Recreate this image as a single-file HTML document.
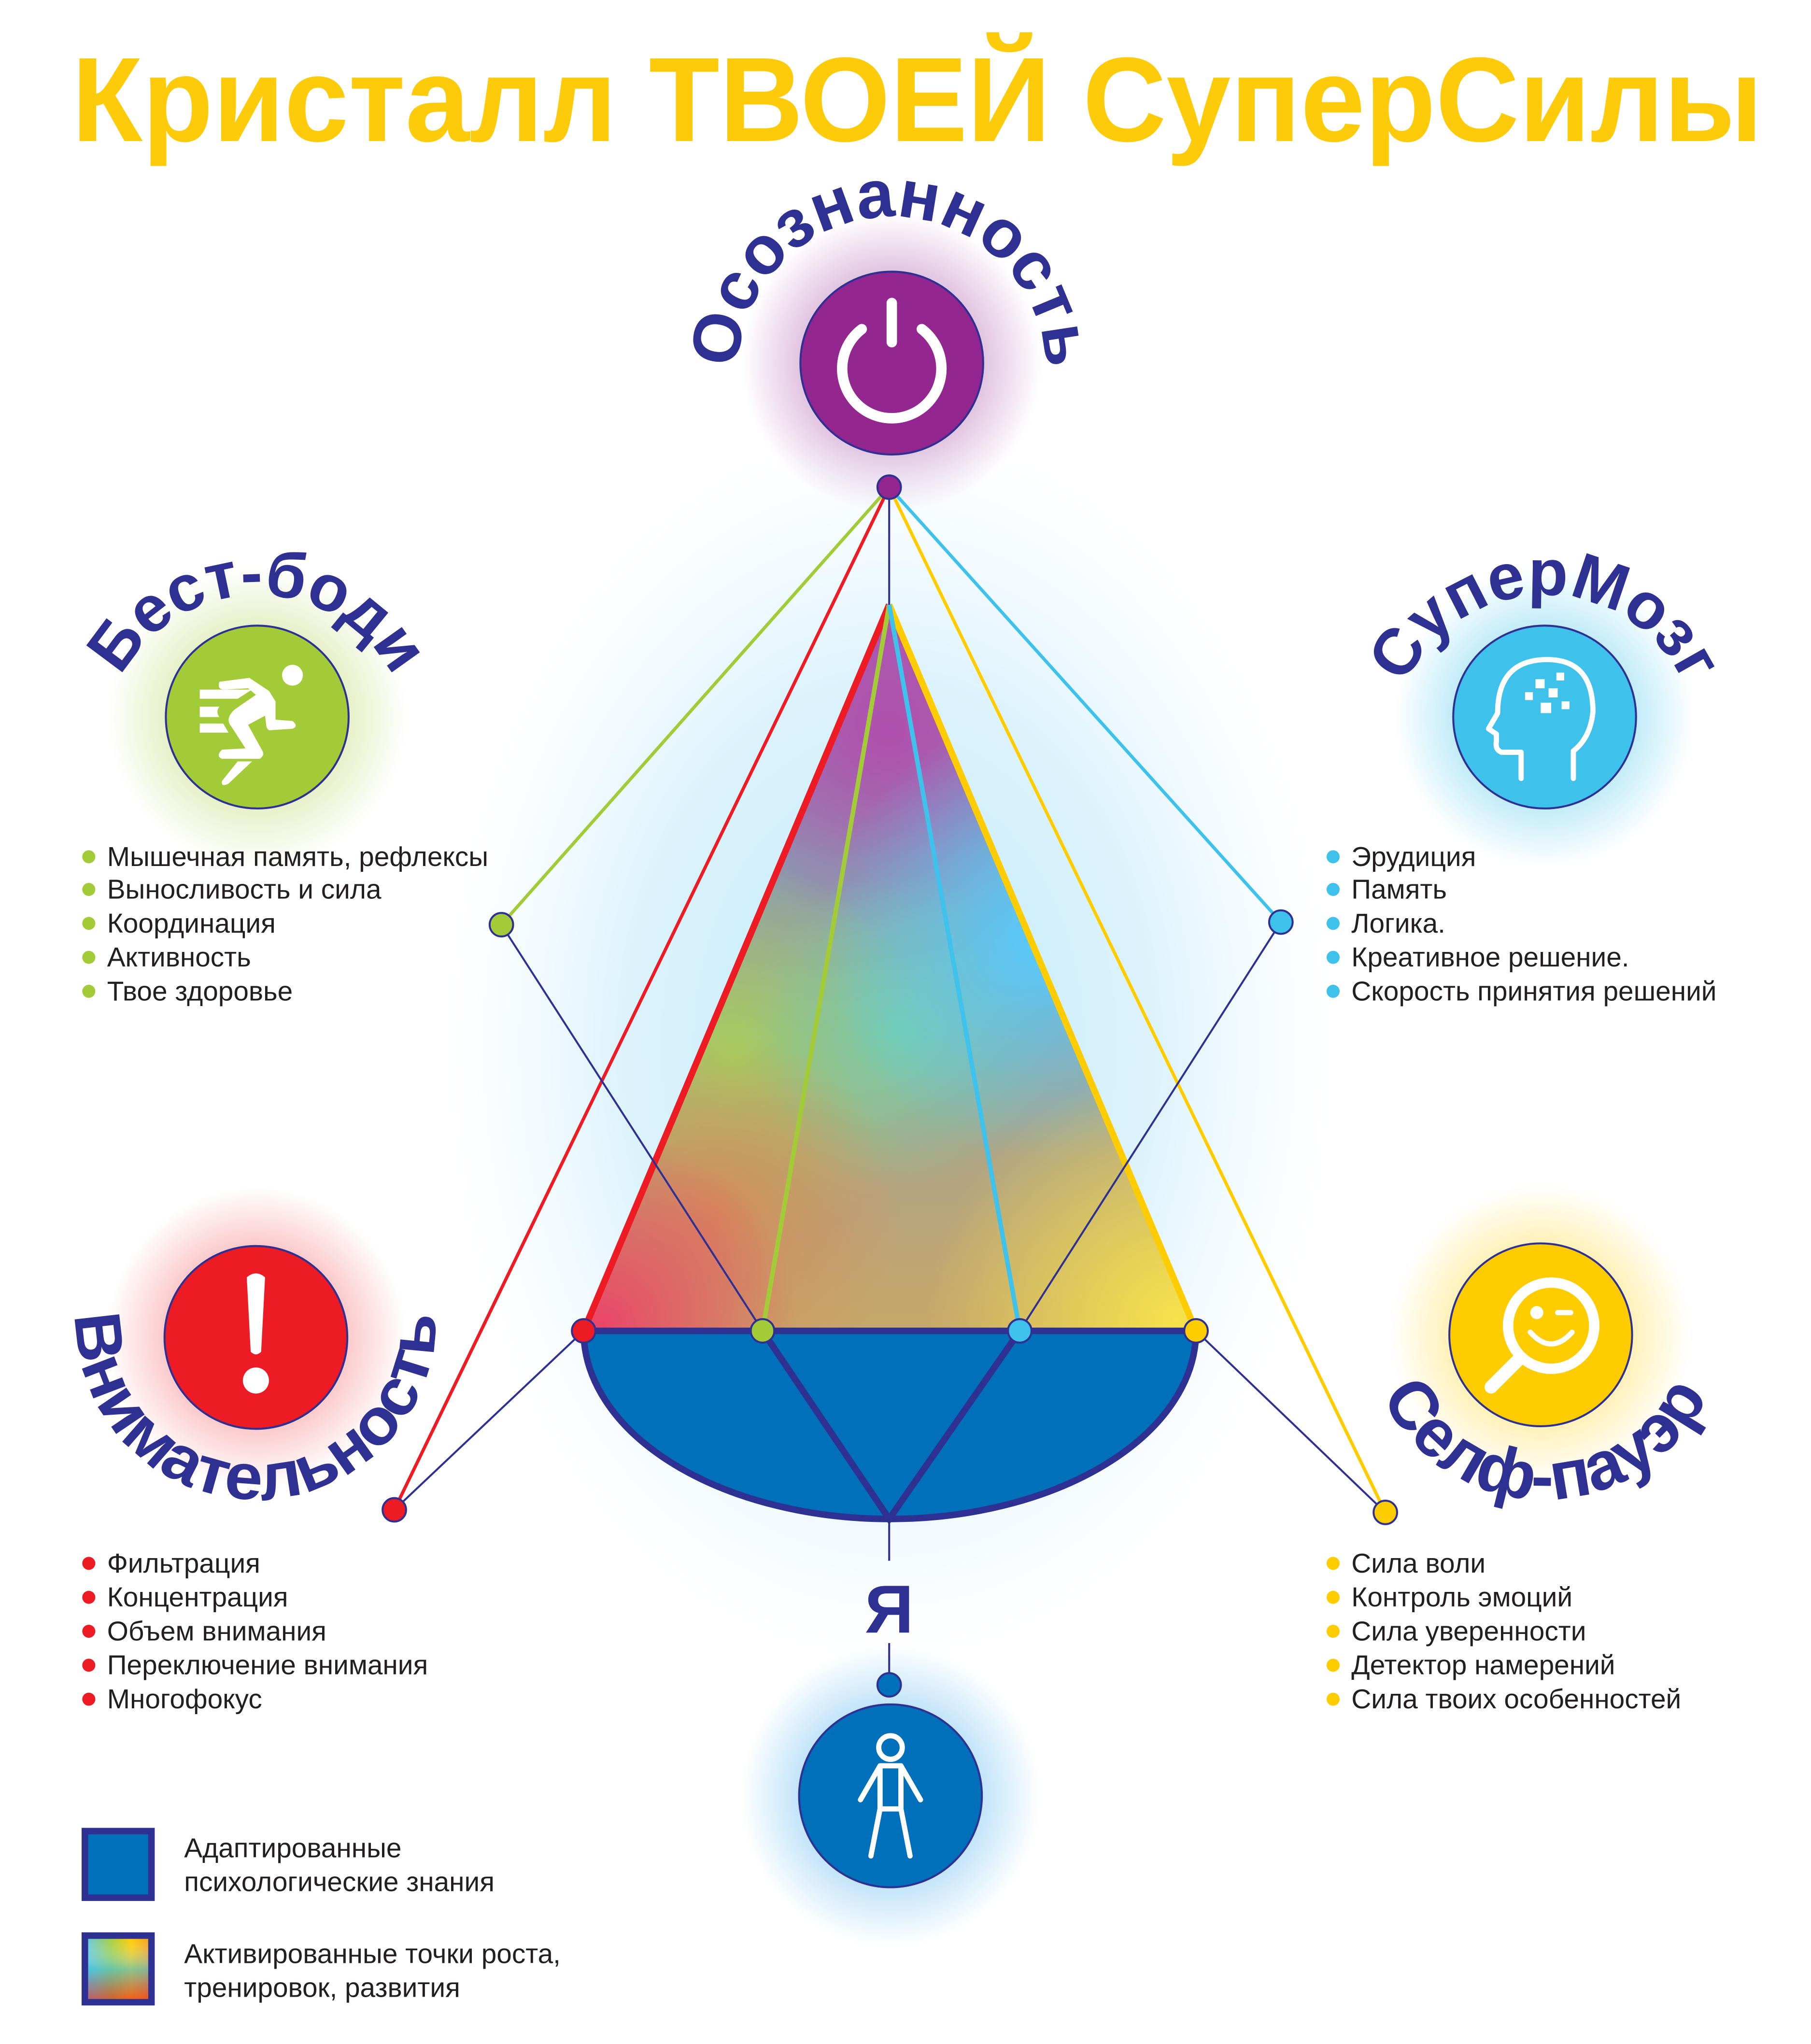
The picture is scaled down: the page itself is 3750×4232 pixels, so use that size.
<!DOCTYPE html>
<html><head><meta charset="utf-8"><style>html,body{margin:0;padding:0;background:#fff}svg{display:block}</style></head><body>
<svg width="3750" height="4232" viewBox="0 0 1387 1565" preserveAspectRatio="none" xmlns="http://www.w3.org/2000/svg">
<defs>
<radialGradient id="gP"><stop offset="0.5" stop-color="#93268F" stop-opacity="0.35"/><stop offset="1" stop-color="#93268F" stop-opacity="0"/></radialGradient>
<radialGradient id="gG"><stop offset="0.5" stop-color="#A3CB38" stop-opacity="0.35"/><stop offset="1" stop-color="#A3CB38" stop-opacity="0"/></radialGradient>
<radialGradient id="gC"><stop offset="0.5" stop-color="#3EC1EA" stop-opacity="0.4"/><stop offset="1" stop-color="#3EC1EA" stop-opacity="0"/></radialGradient>
<radialGradient id="gR"><stop offset="0.5" stop-color="#ED1C24" stop-opacity="0.3"/><stop offset="1" stop-color="#ED1C24" stop-opacity="0"/></radialGradient>
<radialGradient id="gY"><stop offset="0.5" stop-color="#FFCC00" stop-opacity="0.35"/><stop offset="1" stop-color="#FFCC00" stop-opacity="0"/></radialGradient>
<radialGradient id="gB"><stop offset="0.5" stop-color="#3EA8EA" stop-opacity="0.4"/><stop offset="1" stop-color="#3EA8EA" stop-opacity="0"/></radialGradient>
<radialGradient id="halo"><stop offset="0" stop-color="#BDE9FB" stop-opacity="1"/><stop offset="0.6" stop-color="#D4F0FC" stop-opacity="0.8"/><stop offset="1" stop-color="#E8F7FD" stop-opacity="0"/></radialGradient>
<linearGradient id="base" x1="0" y1="0" x2="0" y2="1"><stop offset="0" stop-color="#B050B0"/><stop offset="0.35" stop-color="#8A9CB0"/><stop offset="1" stop-color="#C8A868"/></linearGradient>
<radialGradient id="oRed"><stop offset="0" stop-color="#EA4568" stop-opacity="1"/><stop offset="1" stop-color="#EA4568" stop-opacity="0"/></radialGradient>
<radialGradient id="oYel"><stop offset="0" stop-color="#F6E24C" stop-opacity="1"/><stop offset="1" stop-color="#F6E24C" stop-opacity="0"/></radialGradient>
<radialGradient id="oBlu"><stop offset="0" stop-color="#55CBFF" stop-opacity="1"/><stop offset="1" stop-color="#55CBFF" stop-opacity="0"/></radialGradient>
<radialGradient id="oGrn"><stop offset="0" stop-color="#A6CF5E" stop-opacity="1"/><stop offset="1" stop-color="#A6CF5E" stop-opacity="0"/></radialGradient>
<radialGradient id="oTeal"><stop offset="0" stop-color="#78CFA8" stop-opacity="1"/><stop offset="1" stop-color="#78CFA8" stop-opacity="0"/></radialGradient>
<radialGradient id="oPur"><stop offset="0" stop-color="#B04FAE" stop-opacity="1"/><stop offset="1" stop-color="#B04FAE" stop-opacity="0"/></radialGradient>
<radialGradient id="oOr"><stop offset="0" stop-color="#D88858" stop-opacity="0.9"/><stop offset="1" stop-color="#D88858" stop-opacity="0"/></radialGradient>
<clipPath id="tri"><polygon points="681,463 447,1019 916,1019"/></clipPath>
<linearGradient id="lg" x1="0" y1="0" x2="1" y2="0"><stop offset="0" stop-color="#5AC8F0"/><stop offset="0.4" stop-color="#A4CF3A"/><stop offset="0.7" stop-color="#FFCC00"/><stop offset="1" stop-color="#F39A1E"/></linearGradient>
<linearGradient id="lg2" x1="0" y1="0" x2="0" y2="1"><stop offset="0" stop-color="#fff" stop-opacity="0"/><stop offset="0.5" stop-color="#3EC1EA" stop-opacity="0.6"/><stop offset="1" stop-color="#ED1C24" stop-opacity="0.6"/></linearGradient>
<path id="pTop" d="M570,318 A118 118 0 1 1 796,318"/>
<path id="pBest" d="M82,600 A118 118 0 1 1 312,600"/>
<path id="pMozg" d="M1068,600 A118 118 0 1 1 1298,600"/>
<path id="pVn" d="M58,1010 A138 138 0 1 0 334,1010"/>
<path id="pSelf" d="M1045,1010 A138 138 0 1 0 1321,1010"/>
</defs>

<text x="55" y="108" font-family="Liberation Sans, sans-serif" font-weight="bold" font-size="92" fill="#FDCB0A" textLength="1295" lengthAdjust="spacingAndGlyphs">Кристалл ТВОЕЙ СуперСилы</text>

<circle cx="683" cy="278" r="115" fill="url(#gP)"/>
<circle cx="197" cy="549" r="115" fill="url(#gG)"/>
<circle cx="1183" cy="549" r="115" fill="url(#gC)"/>
<circle cx="196" cy="1024" r="115" fill="url(#gR)"/>
<circle cx="1180" cy="1022" r="115" fill="url(#gY)"/>
<circle cx="682" cy="1375" r="115" fill="url(#gB)"/>
<ellipse cx="681" cy="800" rx="340" ry="470" fill="url(#halo)"/>

<g clip-path="url(#tri)">
<rect x="440" y="460" width="480" height="565" fill="url(#base)"/>
<circle cx="680" cy="560" r="150" fill="url(#oPur)"/>
<circle cx="560" cy="810" r="150" fill="url(#oGrn)"/>
<circle cx="690" cy="790" r="120" fill="url(#oTeal)"/>
<circle cx="800" cy="720" r="170" fill="url(#oBlu)"/>
<circle cx="550" cy="930" r="140" fill="url(#oOr)"/>
<circle cx="460" cy="1015" r="150" fill="url(#oRed)"/>
<circle cx="900" cy="1010" r="190" fill="url(#oYel)"/>
</g>
<path d="M447,1019 A234.5 144 0 0 0 916,1019 Z" fill="#0070BA" stroke="#2E3192" stroke-width="5"/>
<path d="M584,1019 L681,1163 L781,1019" fill="none" stroke="#2E3192" stroke-width="5"/>
<line x1="447" y1="1019" x2="681" y2="463" stroke="#ED1C24" stroke-width="5"/>
<line x1="916" y1="1019" x2="681" y2="463" stroke="#FFCC00" stroke-width="5"/>
<line x1="584" y1="1019" x2="681" y2="463" stroke="#A3CB38" stroke-width="3.5"/>
<line x1="781" y1="1019" x2="681" y2="463" stroke="#3EC1EA" stroke-width="3.5"/>

<line x1="681" y1="373" x2="681" y2="463" stroke="#2E3192" stroke-width="1.5"/>
<line x1="681" y1="373" x2="384" y2="708" stroke="#A3CB38" stroke-width="2.5"/>
<line x1="681" y1="373" x2="302" y2="1156" stroke="#ED1C24" stroke-width="2.5"/>
<line x1="681" y1="373" x2="1061" y2="1158" stroke="#FFCC00" stroke-width="2.5"/>
<line x1="681" y1="373" x2="981" y2="706" stroke="#3EC1EA" stroke-width="2.5"/>
<line x1="384" y1="708" x2="584" y2="1019" stroke="#2E3192" stroke-width="1.5"/>
<line x1="981" y1="706" x2="781" y2="1019" stroke="#2E3192" stroke-width="1.5"/>
<line x1="447" y1="1019" x2="302" y2="1156" stroke="#2E3192" stroke-width="1.5"/>
<line x1="916" y1="1019" x2="1061" y2="1158" stroke="#2E3192" stroke-width="1.5"/>
<line x1="681" y1="1163" x2="681" y2="1195" stroke="#2E3192" stroke-width="1.5"/>
<line x1="681" y1="1258" x2="681" y2="1290" stroke="#2E3192" stroke-width="1.5"/>

<g stroke="#2E3192" stroke-width="1.5">
<circle cx="681" cy="373" r="9" fill="#93268F"/>
<circle cx="384" cy="708" r="9" fill="#A3CB38"/>
<circle cx="981" cy="706" r="9" fill="#3EC1EA"/>
<circle cx="302" cy="1156" r="9" fill="#ED1C24"/>
<circle cx="1061" cy="1158" r="9" fill="#FFCC00"/>
<circle cx="447" cy="1019" r="9" fill="#ED1C24"/>
<circle cx="584" cy="1019" r="9" fill="#A3CB38"/>
<circle cx="781" cy="1019" r="9" fill="#3EC1EA"/>
<circle cx="916" cy="1019" r="9" fill="#FFCC00"/>
<circle cx="681" cy="1290" r="9" fill="#0070BA"/>
</g>

<g stroke="#2E3192" stroke-width="1.5">
<circle cx="683" cy="278" r="70" fill="#93268F"/>
<circle cx="197" cy="549" r="70" fill="#A3CB38"/>
<circle cx="1183" cy="549" r="70" fill="#3EC1EA"/>
<circle cx="196" cy="1024" r="70" fill="#ED1C24"/>
<circle cx="1180" cy="1022" r="70" fill="#FFCC00"/>
<circle cx="682" cy="1375" r="70" fill="#0070BA"/>
</g>

<path d="M660,252 A38 38 0 1 0 706,252" fill="none" stroke="#fff" stroke-width="8" stroke-linecap="round"/>
<line x1="683" y1="232" x2="683" y2="262" stroke="#fff" stroke-width="8" stroke-linecap="round"/>

<g fill="#fff">
<circle cx="224" cy="517" r="8"/>
<path d="M153,528 H193 L182,535 H153 Z M153,541 H168 Q165,545 168,549 H153 Z M153,554 H171 L175,561 H153 Z"/>
<path d="M168,522 Q166,528 172,528 L190,527 L196,532 L180,543 Q172,550 177,556 L188,573 L170,574 Q165,579 170,581 L199,581 Q203,578 201,575 L190,555 L203,548 L204,556 Q205,560 208,559 L224,558 Q229,556 224,552 L211,551 L211,537 L206,529 L191,519 Z"/>
<path d="M182,583 L193,583 L175,600 Q169,603 170,598 Z"/>
</g>

<g fill="none" stroke="#fff" stroke-width="4" stroke-linejoin="round" stroke-linecap="round">
<path d="M1165,596 V576 L1150,576 Q1145,574 1146,568 V562 L1140,558 L1147,546 Q1147,505 1185,505 Q1220,505 1220,545 Q1218,565 1205,575 V596"/>
</g>
<g fill="#fff">
<rect x="1176" y="520" width="7" height="7"/><rect x="1186" y="527" width="7" height="7"/><rect x="1168" y="530" width="6" height="6"/><rect x="1192" y="515" width="6" height="6"/><rect x="1180" y="538" width="8" height="8"/><rect x="1196" y="537" width="6" height="6"/>
</g>

<path d="M189,978 Q196,972 203,978 L200,1035 Q196,1039 192,1035 Z" fill="#fff"/>
<circle cx="196" cy="1057" r="10" fill="#fff"/>

<circle cx="1188" cy="1015" r="33" fill="none" stroke="#fff" stroke-width="8"/>
<line x1="1164" y1="1040" x2="1142" y2="1062" stroke="#fff" stroke-width="10" stroke-linecap="round"/>
<circle cx="1177" cy="1005" r="5" fill="#fff"/>
<path d="M1193,1005 h10" stroke="#fff" stroke-width="4" stroke-linecap="round"/>
<path d="M1172,1020 Q1188,1038 1204,1020" fill="none" stroke="#fff" stroke-width="4" stroke-linecap="round"/>

<g fill="none" stroke="#fff" stroke-width="4" stroke-linecap="round" stroke-linejoin="round">
<circle cx="682" cy="1338" r="9"/>
<path d="M674,1352 H690 L705,1378 M674,1352 L659,1378 M674,1352 V1385 L667,1421 M690,1352 V1385 L697,1421 M674,1385 H690"/>
</g>

<g font-family="Liberation Sans, sans-serif" font-weight="bold" fill="#2E3192">
<text font-size="52"><textPath href="#pTop" startOffset="50%" text-anchor="middle">Осознанность</textPath></text>
<text font-size="50"><textPath href="#pBest" startOffset="50%" text-anchor="middle">Бест-боди</textPath></text>
<text font-size="50"><textPath href="#pMozg" startOffset="50%" text-anchor="middle">СуперМозг</textPath></text>
<text font-size="50"><textPath href="#pVn" startOffset="50%" text-anchor="middle" textLength="440" lengthAdjust="spacingAndGlyphs">Внимательность</textPath></text>
<text font-size="52"><textPath href="#pSelf" startOffset="50%" text-anchor="middle">Селф-пауэр</textPath></text>
<text x="681" y="1250" font-size="52" text-anchor="middle">Я</text>
</g>

<g font-family="Liberation Sans, sans-serif" font-size="21" fill="#231F20">
<g fill="#A3CB38"><circle cx="68" cy="656" r="5"/><circle cx="68" cy="681" r="5"/><circle cx="68" cy="707" r="5"/><circle cx="68" cy="733" r="5"/><circle cx="68" cy="759" r="5"/></g>
<text x="82" y="663">Мышечная память, рефлексы</text>
<text x="82" y="688">Выносливость и сила</text>
<text x="82" y="714">Координация</text>
<text x="82" y="740">Активность</text>
<text x="82" y="766">Твое здоровье</text>
<g fill="#3EC1EA"><circle cx="1021" cy="656" r="5"/><circle cx="1021" cy="681" r="5"/><circle cx="1021" cy="707" r="5"/><circle cx="1021" cy="733" r="5"/><circle cx="1021" cy="759" r="5"/></g>
<text x="1035" y="663">Эрудиция</text>
<text x="1035" y="688">Память</text>
<text x="1035" y="714">Логика.</text>
<text x="1035" y="740">Креативное решение.</text>
<text x="1035" y="766">Скорость принятия решений</text>
<g fill="#ED1C24"><circle cx="68" cy="1197" r="5"/><circle cx="68" cy="1223" r="5"/><circle cx="68" cy="1249" r="5"/><circle cx="68" cy="1275" r="5"/><circle cx="68" cy="1301" r="5"/></g>
<text x="82" y="1204">Фильтрация</text>
<text x="82" y="1230">Концентрация</text>
<text x="82" y="1256">Объем внимания</text>
<text x="82" y="1282">Переключение внимания</text>
<text x="82" y="1308">Многофокус</text>
<g fill="#FFCC00"><circle cx="1021" cy="1197" r="5"/><circle cx="1021" cy="1223" r="5"/><circle cx="1021" cy="1249" r="5"/><circle cx="1021" cy="1275" r="5"/><circle cx="1021" cy="1301" r="5"/></g>
<text x="1035" y="1204">Сила воли</text>
<text x="1035" y="1230">Контроль эмоций</text>
<text x="1035" y="1256">Сила уверенности</text>
<text x="1035" y="1282">Детектор намерений</text>
<text x="1035" y="1308">Сила твоих особенностей</text>
</g>

<rect x="65" y="1402" width="51" height="51" fill="#0070BA" stroke="#2E3192" stroke-width="5"/>
<rect x="65" y="1482" width="51" height="51" fill="url(#lg)" stroke="#2E3192" stroke-width="5"/>
<rect x="67.5" y="1484.5" width="46" height="46" fill="url(#lg2)"/>
<g font-family="Liberation Sans, sans-serif" font-size="21" fill="#231F20">
<text x="141" y="1422">Адаптированные</text>
<text x="141" y="1448">психологические знания</text>
<text x="141" y="1503">Активированные точки роста,</text>
<text x="141" y="1529">тренировок, развития</text>
</g>
</svg>
</body></html>
